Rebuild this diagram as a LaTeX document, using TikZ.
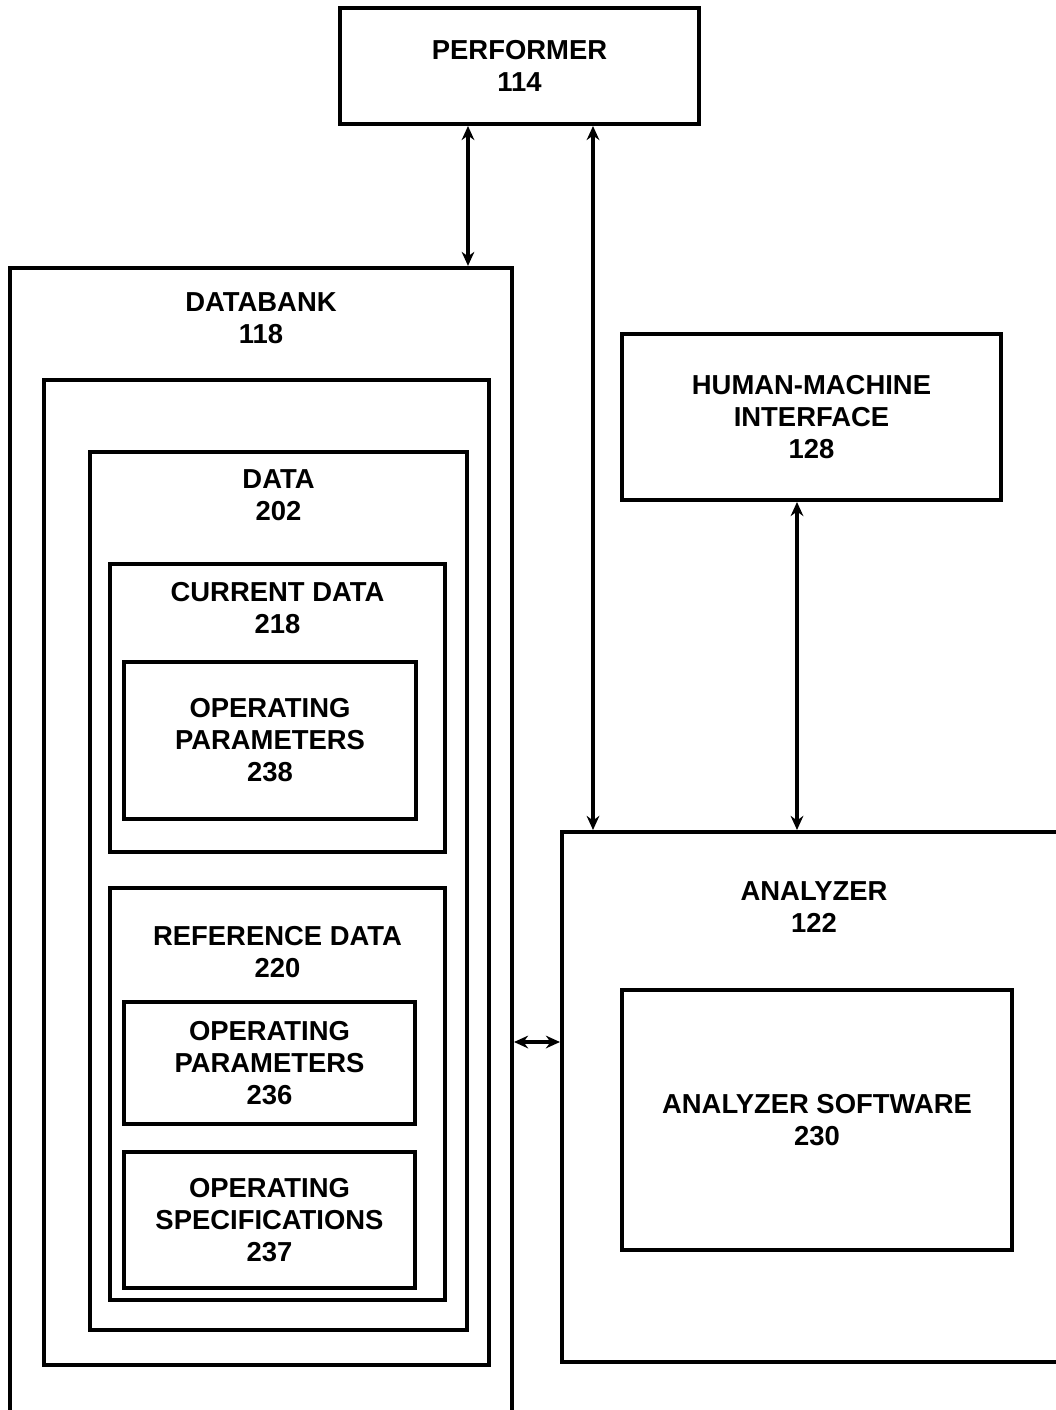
\documentclass[tikz,border=0pt]{standalone}
\usepackage{fontspec}
\setmainfont{Liberation Sans}
\usepackage{tikz}
\usetikzlibrary{arrows.meta}
\tikzset{box node/.style={rectangle,draw,line width=2.8pt,inner sep=0pt},
         title node/.style={align=center,inner sep=0pt,font=\bfseries\fontsize{19.5}{22.8}\selectfont},
         link/.style={line width=2.2pt,<->,>={Stealth[length=10pt,width=9pt]}},
            }

\begin{document}
\begin{tikzpicture}[x=0.025cm,y=-0.025cm]
	\useasboundingbox (0,0) rectangle (1056,1410);
	\clip (0,0) rectangle (1056,1410);
	% top
	\node[box node,minimum width=8.975cm,minimum height=2.9cm,title node] (perf) at (519.5,66) {PERFORMER\\114};
	% databank side
	\node[box node,minimum width=12.55cm,minimum height=29.05cm] (db) at (261,849) {};
	\node[title node] (dbt) at (261,318) {DATABANK\\118};
	\node[box node,minimum width=11.125cm,minimum height=24.625cm] (store) at (266.5,872.5) {};
	\node[box node,minimum width=9.425cm,minimum height=21.95cm] (data) at (278.5,891) {};
	\node[title node] (datat) at (278.5,495) {DATA\\202};
	\node[box node,minimum width=8.375cm,minimum height=7.2cm] (cur) at (277.5,708) {};
	\node[title node] (curt) at (277.5,608) {CURRENT DATA\\218};
	\node[box node,minimum width=7.3cm,minimum height=3.925cm,title node] (op238) at (270,740.5) {OPERATING\\PARAMETERS\\238};
	\node[box node,minimum width=8.375cm,minimum height=10.3cm] (ref) at (277.5,1094) {};
	\node[title node] (reft) at (277.5,952) {REFERENCE DATA\\220};
	\node[box node,minimum width=7.275cm,minimum height=3.05cm,title node] (op236) at (269.5,1063) {OPERATING\\PARAMETERS\\236};
	\node[box node,minimum width=7.275cm,minimum height=3.4cm,title node] (spec237) at (269.5,1220) {OPERATING\\SPECIFICATIONS\\237};
	% analyzer side
	\node[box node,minimum width=9.475cm,minimum height=4.15cm,title node] (hmi) at (811.5,417) {HUMAN-MACHINE\\INTERFACE\\128};
	\node[box node,minimum width=13.2cm,minimum height=13.25cm] (ana) at (826,1097) {};
	\node[title node] (anat) at (814,907) {ANALYZER\\122};
	\node[box node,minimum width=9.75cm,minimum height=6.5cm,title node] (sw) at (817,1120) {ANALYZER SOFTWARE\\230};

	\coordinate (K1) at (468,0);
	\coordinate (K2) at (593,0);
	\coordinate (K3) at (797,0);
	\coordinate (K4) at (0,1042);

	\draw[link] (perf.south -| K1) to (db.north -| K1);
	\draw[link] (perf.south -| K2) to (ana.north -| K2);
	\draw[link] (hmi.south -| K3) to (ana.north -| K3);
	\draw[link] (db.east |- K4) to (ana.west |- K4);
\end{tikzpicture}
\end{document}
